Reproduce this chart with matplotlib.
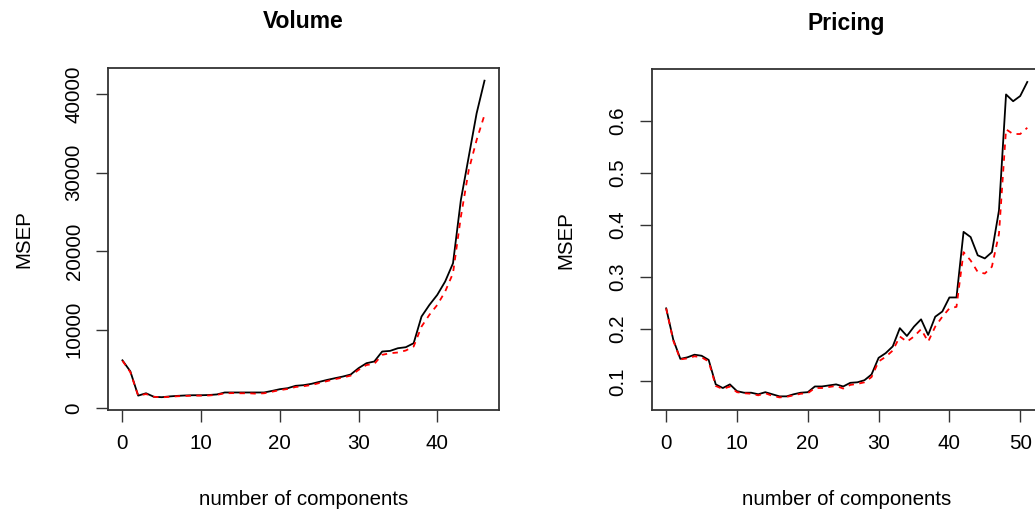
#!/usr/bin/env python3
# -*- coding=utf-8 -*-
from matplotlib import pyplot as plt
plt.rcParams['font.family'] = ['Liberation Sans', 'DejaVu Sans']

# Volume: MSEP by number of components (CV / adjCV)
vol_comps = list(range(0, 47))
vol_cv = [6100, 4700, 1600, 1900, 1450, 1400, 1500, 1570, 1620, 1650,
          1650, 1680, 1750, 2000, 2000, 2000, 2000, 2000, 2000, 2200,
          2420, 2550, 2850, 2930, 3100, 3350, 3600, 3820, 4030, 4290,
          5100, 5730, 5950, 7220, 7300, 7640, 7770, 8280, 11680, 13160,
          14440, 16140, 18470, 26540, 32060, 37580, 41740]
vol_adj = [6050, 4600, 1600, 1800, 1450, 1380, 1450, 1520, 1560, 1600,
           1600, 1620, 1700, 1900, 1920, 1900, 1900, 1850, 1900, 2100,
           2300, 2450, 2700, 2800, 2950, 3200, 3450, 3700, 3900, 4150,
           4880, 5500, 5650, 6800, 7000, 7100, 7350, 7860, 10400, 11900,
           13160, 14860, 17200, 24400, 30360, 34180, 37370]

# Pricing
pri_comps = list(range(0, 52))
pri_cv = [0.240, 0.180, 0.143, 0.146, 0.151, 0.149, 0.141, 0.094, 0.087, 0.094,
          0.081, 0.078, 0.078, 0.075, 0.079, 0.075, 0.071, 0.071, 0.075, 0.078,
          0.079, 0.090, 0.090, 0.092, 0.094, 0.090, 0.097, 0.098, 0.102, 0.113,
          0.145, 0.154, 0.167, 0.202, 0.187, 0.205, 0.219, 0.189, 0.224, 0.234,
          0.261, 0.261, 0.387, 0.377, 0.342, 0.336, 0.348, 0.428, 0.651, 0.638,
          0.648, 0.675]
pri_adj = [0.240, 0.178, 0.142, 0.144, 0.148, 0.146, 0.138, 0.091, 0.085, 0.090,
           0.079, 0.077, 0.076, 0.073, 0.077, 0.072, 0.069, 0.070, 0.073, 0.076,
           0.077, 0.087, 0.087, 0.089, 0.091, 0.086, 0.093, 0.095, 0.098, 0.108,
           0.138, 0.147, 0.159, 0.186, 0.176, 0.186, 0.200, 0.176, 0.205, 0.224,
           0.240, 0.243, 0.348, 0.332, 0.310, 0.307, 0.320, 0.383, 0.584, 0.575,
           0.575, 0.587]

vol_yticks = [0, 10000, 20000, 30000, 40000]
pri_yticks = [0.1, 0.2, 0.3, 0.4, 0.5, 0.6]
pri_yticklabels = ['0.1', '0.2', '0.3', '0.4', '0.5', '0.6']


def msep_panel(ax, x, cv, adj, title, yticks, yticklabels, xticks):
    ax.plot(x, cv, color='black', lw=1.3)
    ax.plot(x, adj, color='red', lw=1.3, dashes=(3, 3))
    # R style 4% padding
    ax.margins(0.04)
    ax.set_xticks(xticks)
    ax.set_yticks(yticks)
    ax.set_yticklabels(yticklabels, rotation=90, va='center')
    ax.tick_params(labelsize=14.8, length=8.5, width=1, pad=9, color='#333333')
    for s in ax.spines.values():
        s.set_linewidth(1.3)
        s.set_color('#333333')
    ax.set_title(title, fontsize=16.5, fontweight='bold', y=1.135, va='center', pad=0)
    ax.set_xlabel('number of components', fontsize=14.8, va='center')
    ax.xaxis.set_label_coords(0.5, -0.263)
    ax.set_ylabel('MSEP', fontsize=14.8, va='center')


fig = plt.figure(figsize=(10.35, 5.16), dpi=100)
ax1 = fig.add_axes([0.1043, 0.2054, 0.3778, 0.6628])
msep_panel(ax1, vol_comps, vol_cv, vol_adj, 'Volume',
           vol_yticks, [str(v) for v in vol_yticks], [0, 10, 20, 30, 40])
ax1.yaxis.set_label_coords(-0.215, 0.5)

# right panel runs past the edge of the picture
ax2 = fig.add_axes([0.6297, 0.2054, 0.3768, 0.6602])
msep_panel(ax2, pri_comps, pri_cv, pri_adj, 'Pricing',
           pri_yticks, pri_yticklabels, [0, 10, 20, 30, 40, 50])
ax2.yaxis.set_label_coords(-0.219, 0.5)

plt.savefig('out.png', dpi=100)
